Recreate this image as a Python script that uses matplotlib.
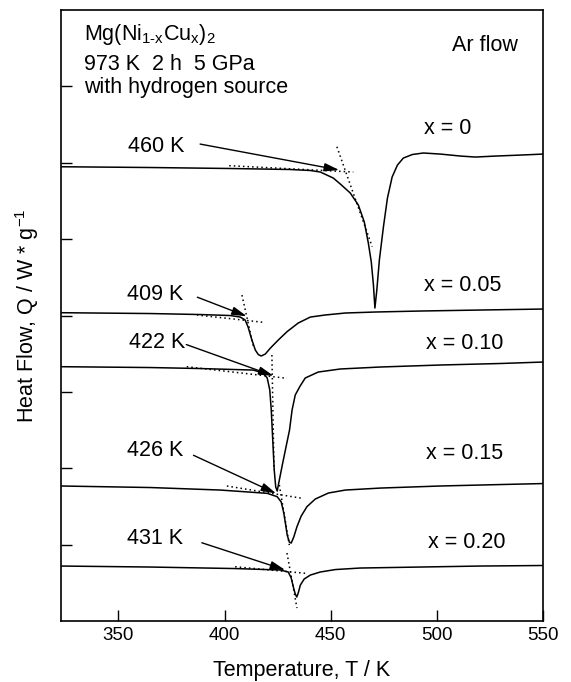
import matplotlib
matplotlib.use("Agg")
import matplotlib.pyplot as plt

plt.rcParams['font.family'] = ['Liberation Sans', 'DejaVu Sans']
plt.rcParams['mathtext.fontset'] = 'custom'
plt.rcParams['mathtext.rm'] = 'Liberation Sans'
plt.rcParams['mathtext.it'] = 'Liberation Sans'
plt.rcParams['mathtext.default'] = 'regular'

# ---- data (temperature K, heat-flow in arbitrary offset units) ----
T_x000 = [323, 365.0, 402.7, 430.9, 440.4, 445.1, 451.2, 454.5, 459.2, 463.0, 465.8,
          467.7, 469.1, 470.1, 470.8, 471.7, 472.9, 474.8, 476.7, 478.9, 481.4,
          484.2, 488.4, 493.6, 501.6, 511.1, 518.1, 527.6, 539.4, 550]
Q_x000 = [5.948, 5.938, 5.925, 5.912, 5.899, 5.879, 5.80, 5.722, 5.604, 5.447, 5.224,
          4.949, 4.70, 4.40, 4.098, 4.334, 4.727, 5.159, 5.538, 5.813, 5.970,
          6.062, 6.108, 6.128, 6.114, 6.088, 6.075, 6.088, 6.101, 6.114]

T_x005 = [323, 365.0, 388.5, 402.7, 407.4, 409.7, 411.1, 412.6, 414.5, 415.9, 417.3,
          419.2, 421.5, 425.3, 429.4, 434.7, 440.4, 447.4, 456.9, 471.0, 492.2, 520.5, 550]
Q_x005 = [4.037, 4.026, 4.013, 4.000, 3.980, 3.941, 3.849, 3.705, 3.548, 3.489, 3.470,
          3.496, 3.571, 3.679, 3.788, 3.902, 3.980, 4.007, 4.033, 4.046, 4.059, 4.072, 4.085]

T_x010 = [323, 365.0, 388.5, 413.5, 418.2, 420.1, 421.3, 422.0, 422.7, 423.4, 424.1,
          424.8, 425.8, 427.2, 429.1, 430.6, 431.8, 433.3, 435.6, 438.0, 444.1,
          454.5, 473.4, 501.6, 529.9, 550]
Q_x010 = [3.330, 3.319, 3.306, 3.286, 3.247, 3.182, 3.025, 2.763, 2.370, 1.977, 1.755,
          1.702, 1.846, 2.043, 2.300, 2.501, 2.763, 2.960, 3.077, 3.182, 3.260,
          3.300, 3.326, 3.352, 3.372, 3.391]

T_x015 = [323, 365.0, 398.0, 420.1, 424.8, 426.7, 427.9, 428.8, 429.5, 430.5, 431.4,
          432.6, 434.1, 436.1, 438.8, 442.7, 448.9, 456.9, 473.4, 501.6, 529.9, 550]
Q_x015 = [1.768, 1.748, 1.715, 1.672, 1.628, 1.558, 1.414, 1.257, 1.126, 1.034, 1.021,
          1.100, 1.235, 1.375, 1.497, 1.597, 1.676, 1.715, 1.741, 1.768, 1.787, 1.800]

T_x020 = [323, 365.0, 405.0, 426.2, 430.0, 431.4, 432.4, 433.3, 434.0, 434.7, 435.7,
          437.5, 440.4, 445.1, 452.2, 463.9, 492.2, 520.5, 550]
Q_x020 = [0.720, 0.707, 0.687, 0.668, 0.642, 0.563, 0.445, 0.354, 0.314, 0.367, 0.471,
          0.550, 0.602, 0.642, 0.674, 0.694, 0.707, 0.720, 0.727]

# tangent construction lines (baseline and steep flank), pairs of (T, Q)
tan_base_T = [[402.2, 460.6], [387.0, 418.4], [382.2, 429.4], [401.1, 436.5], [405.0, 438.0]]
tan_base_Q = [[5.962, 5.879], [4.007, 3.911], [3.330, 3.178], [1.768, 1.607], [0.711, 0.625]]
tan_steep_T = [[452.9, 469.5], [408.2, 413.6], [422.3, 423.3], [425.8, 430.5], [429.4, 434.1]]
tan_steep_Q = [[6.210, 4.901], [4.268, 3.592], [3.483, 1.977], [1.781, 0.995], [0.890, 0.170]]

onset_labels = ['460 K', '409 K', '422 K', '426 K', '431 K']
onset_text_T = [381.0, 380.6, 381.4, 380.6, 380.6]
onset_text_Q = [6.145, 4.198, 3.578, 2.160, 1.012]
onset_arrow_from_T = [388.5, 387.2, 382.0, 385.4, 389.3]
onset_arrow_from_Q = [6.245, 4.24, 3.62, 2.17, 1.025]
onset_arrow_to_T = [454.0, 410.5, 423.1, 424.3, 428.6]
onset_arrow_to_Q = [5.905, 3.99, 3.21, 1.67, 0.668]

comp_labels = ['x = 0', 'x = 0.05', 'x = 0.10', 'x = 0.15', 'x = 0.20']
comp_T = [494.1, 494.1, 495.0, 495.0, 496.0]
comp_Q = [6.38, 4.325, 3.556, 2.125, 0.96]

x_ticks = [350, 400, 450, 500, 550]
y_ticks = [1, 2, 3, 4, 5, 6, 7]

# ---- figure ----
fig = plt.figure(figsize=(5.71, 6.82), dpi=100)
ax = fig.add_axes([0.1068, 0.0894, 0.8444, 0.8959])

for T, Q in [(T_x000, Q_x000), (T_x005, Q_x005), (T_x010, Q_x010),
             (T_x015, Q_x015), (T_x020, Q_x020)]:
    ax.plot(T, Q, color='black', lw=1.1, solid_joinstyle='round')

for Tb, Qb, Ts, Qs in zip(tan_base_T, tan_base_Q, tan_steep_T, tan_steep_Q):
    ax.plot(Tb, Qb, color='black', lw=1.1, ls=(0, (1, 2)))
    ax.plot(Ts, Qs, color='black', lw=1.1, ls=(0, (1, 2)))

for lab, tx, ty, fx, fy, ex, ey in zip(onset_labels, onset_text_T, onset_text_Q,
                                       onset_arrow_from_T, onset_arrow_from_Q,
                                       onset_arrow_to_T, onset_arrow_to_Q):
    ax.text(tx, ty, lab, ha='right', va='baseline', fontsize=15.5)
    ax.annotate('', xy=(ex, ey), xytext=(fx, fy),
                arrowprops=dict(arrowstyle='-|>,head_length=0.9,head_width=0.25',
                                color='black', lw=1.0, shrinkA=0, shrinkB=0))

for lab, tx, ty in zip(comp_labels, comp_T, comp_Q):
    ax.text(tx, ty, lab, ha='left', va='baseline', fontsize=15.5)

ax.text(507.3, 7.47, 'Ar flow', ha='left', va='baseline', fontsize=15.5)
ax.text(333.8, 7.607, r'Mg(Ni$_{1\text{-}x}$Cu$_x$)$_2$', ha='left', va='baseline', fontsize=15.5)
ax.text(333.8, 7.221, '973 K  2 h  5 GPa', ha='left', va='baseline', fontsize=15.5)
ax.text(333.8, 6.913, 'with hydrogen source', ha='left', va='baseline', fontsize=15.5)

ax.set_xlim(323, 550)
ax.set_ylim(0, 8)
ax.set_xticks(x_ticks)
ax.set_yticks(y_ticks)
ax.set_yticklabels([])
ax.tick_params(axis='x', direction='in', length=8, width=1.0, labelsize=13.5, pad=4)
ax.tick_params(axis='y', direction='in', length=8, width=1.0)
for s in ax.spines.values():
    s.set_linewidth(1.2)

ax.set_xlabel('Temperature, T / K', fontsize=15.5)
ax.set_ylabel('Heat Flow, Q / W * g$^{-1}$', fontsize=15.5)
ax.xaxis.set_label_coords(0.5, -0.063)
ax.yaxis.set_label_coords(-0.042, 0.5)

fig.savefig('out.png', dpi=100)
